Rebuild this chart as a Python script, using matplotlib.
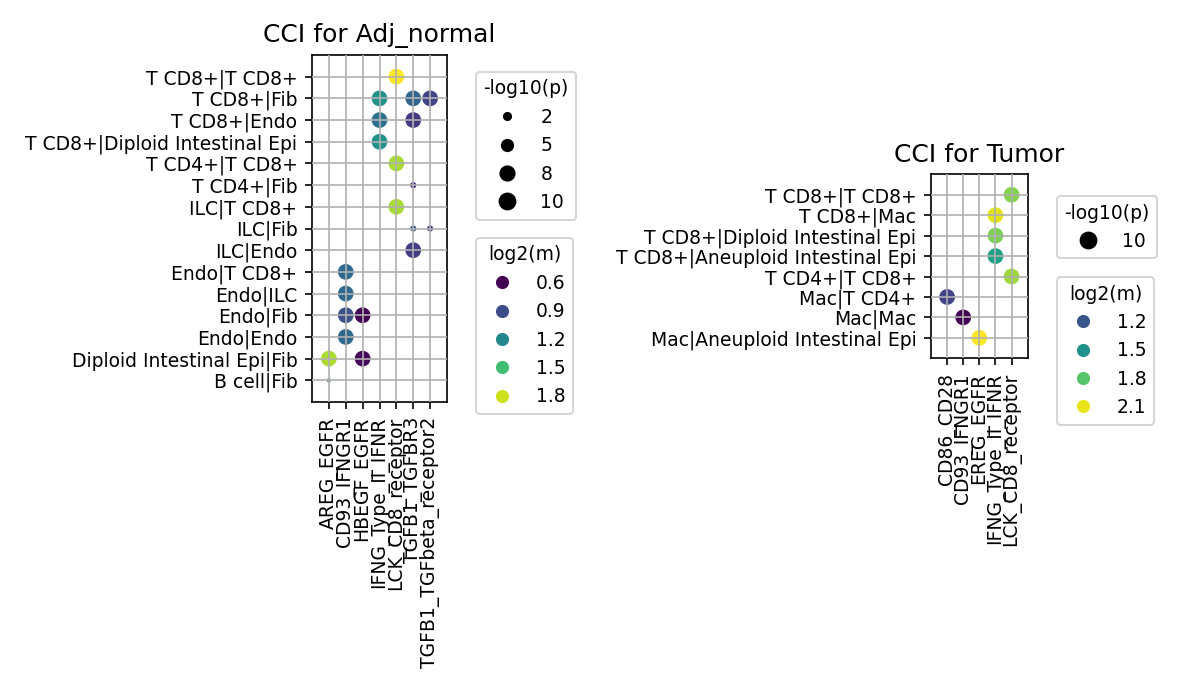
import numpy as np
import matplotlib
matplotlib.use("Agg")
import matplotlib.pyplot as plt
from matplotlib.lines import Line2D
from matplotlib.colors import Normalize

# ---------------- data: Adj_normal ----------------
adj_pairs = ["T CD8+|T CD8+", "T CD8+|Fib", "T CD8+|Endo", "T CD8+|Diploid Intestinal Epi",
             "T CD4+|T CD8+", "T CD4+|Fib", "ILC|T CD8+", "ILC|Fib", "ILC|Endo",
             "Endo|T CD8+", "Endo|ILC", "Endo|Fib", "Endo|Endo",
             "Diploid Intestinal Epi|Fib", "B cell|Fib"]
adj_interactions = ["AREG_EGFR", "CD93_IFNGR1", "HBEGF_EGFR", "IFNG_Type_II_IFNR",
                    "LCK_CD8_receptor", "TGFB1_TGFBR3", "TGFB1_TGFbeta_receptor2"]
adj_pair_of_point = ["T CD8+|T CD8+", "T CD8+|Fib", "T CD8+|Fib", "T CD8+|Fib",
                     "T CD8+|Endo", "T CD8+|Endo", "T CD8+|Diploid Intestinal Epi",
                     "T CD4+|T CD8+", "T CD4+|Fib", "ILC|T CD8+", "ILC|Fib", "ILC|Fib",
                     "ILC|Endo", "Endo|T CD8+", "Endo|ILC", "Endo|Fib", "Endo|Fib",
                     "Endo|Endo", "Diploid Intestinal Epi|Fib", "Diploid Intestinal Epi|Fib",
                     "B cell|Fib"]
adj_inter_of_point = ["LCK_CD8_receptor", "IFNG_Type_II_IFNR", "TGFB1_TGFBR3", "TGFB1_TGFbeta_receptor2",
                      "IFNG_Type_II_IFNR", "TGFB1_TGFBR3", "IFNG_Type_II_IFNR",
                      "LCK_CD8_receptor", "TGFB1_TGFBR3", "LCK_CD8_receptor", "TGFB1_TGFBR3",
                      "TGFB1_TGFbeta_receptor2", "TGFB1_TGFBR3", "CD93_IFNGR1", "CD93_IFNGR1",
                      "CD93_IFNGR1", "HBEGF_EGFR", "CD93_IFNGR1", "AREG_EGFR", "HBEGF_EGFR",
                      "AREG_EGFR"]
adj_log2m = [1.90, 1.25, 1.03, 0.86, 1.09, 0.82, 1.25, 1.73, 0.73, 1.73, 0.93, 0.80,
             0.83, 1.05, 1.05, 0.93, 0.60, 1.04, 1.74, 0.62, 1.10]
adj_logp = [10, 10, 10, 10, 10, 10, 10, 10, 1.5, 10, 1.5, 1.5,
            10, 10, 10, 10, 10, 10, 10, 10, 0.7]
adj_size_ticks = [2, 5, 8, 10]
adj_color_ticks = [0.6, 0.9, 1.2, 1.5, 1.8]

# ---------------- data: Tumor ----------------
tum_pairs = ["T CD8+|T CD8+", "T CD8+|Mac", "T CD8+|Diploid Intestinal Epi",
             "T CD8+|Aneuploid Intestinal Epi", "T CD4+|T CD8+", "Mac|T CD4+",
             "Mac|Mac", "Mac|Aneuploid Intestinal Epi"]
tum_interactions = ["CD86_CD28", "CD93_IFNGR1", "EREG_EGFR", "IFNG_Type_II_IFNR", "LCK_CD8_receptor"]
tum_pair_of_point = ["T CD8+|T CD8+", "T CD8+|Mac", "T CD8+|Diploid Intestinal Epi",
                     "T CD8+|Aneuploid Intestinal Epi", "T CD4+|T CD8+", "Mac|T CD4+",
                     "Mac|Mac", "Mac|Aneuploid Intestinal Epi"]
tum_inter_of_point = ["LCK_CD8_receptor", "IFNG_Type_II_IFNR", "IFNG_Type_II_IFNR",
                      "IFNG_Type_II_IFNR", "LCK_CD8_receptor", "CD86_CD28", "CD93_IFNGR1",
                      "EREG_EGFR"]
tum_log2m = [1.91, 2.09, 1.89, 1.60, 1.96, 1.11, 0.85, 2.15]
tum_logp = [10, 10, 10, 10, 10, 10, 10, 10]
tum_size_ticks = [10]
tum_color_ticks = [1.2, 1.5, 1.8, 2.1]

W, H = 1191, 693
DPI = 150
FS = 9.0
fig = plt.figure(figsize=(W / DPI, H / DPI), dpi=DPI)
plt.rcParams['font.size'] = FS

SIZE_K = 5.7


def panel(rect, pairs, inters, p_pt, i_pt, cvals, pvals, sticks, cticks, title,
          leg1_xy, leg2_xy):
    ax = fig.add_axes(rect)
    xs = [inters.index(i) for i in i_pt]
    ys = [pairs.index(p) for p in p_pt]
    norm = Normalize(vmin=min(cvals), vmax=max(cvals))
    cmap = plt.get_cmap("viridis")
    ax.scatter(xs, ys, s=[SIZE_K * v for v in pvals], c=cvals, cmap=cmap, norm=norm,
               linewidths=0, zorder=1)
    ax.set_xticks(range(len(inters)))
    ax.set_xticklabels(inters, rotation=90, fontsize=FS)
    ax.set_yticks(range(len(pairs)))
    ax.set_yticklabels(pairs, fontsize=FS)
    ax.set_xlim(-1, len(inters))
    ax.set_ylim(len(pairs), -1)
    ax.grid(True, color="#b0b0b0", linewidth=0.8)
    ax.set_axisbelow(False)
    ax.set_title(title, fontsize=12)

    h1 = [Line2D([], [], marker="o", linestyle="none", color="black",
                 markersize=np.sqrt(SIZE_K * v)) for v in sticks]
    leg1 = ax.legend(h1, [str(v) for v in sticks], title="-log10(p)", loc="upper left",
                     bbox_to_anchor=(leg1_xy[0] / W, 1 - leg1_xy[1] / H),
                     bbox_transform=fig.transFigure, borderaxespad=0,
                     labelspacing=0.5, fontsize=FS, title_fontsize=FS)
    ax.add_artist(leg1)
    h2 = [Line2D([], [], marker="o", linestyle="none", color=cmap(norm(v)),
                 markersize=5.3) for v in cticks]
    ax.legend(h2, [str(v) for v in cticks], title="log2(m)", loc="upper left",
              bbox_to_anchor=(leg2_xy[0] / W, 1 - leg2_xy[1] / H),
              bbox_transform=fig.transFigure, borderaxespad=0,
              labelspacing=0.5, fontsize=FS, title_fontsize=FS)
    return ax


panel([312 / W, 1 - 402 / H, 135 / W, 347 / H], adj_pairs, adj_interactions,
      adj_pair_of_point, adj_inter_of_point, adj_log2m, adj_logp,
      adj_size_ticks, adj_color_ticks, "CCI for Adj_normal", (476, 72), (476, 238))
panel([931 / W, 1 - 358.3 / H, 96.7 / W, 184 / H], tum_pairs, tum_interactions,
      tum_pair_of_point, tum_inter_of_point, tum_log2m, tum_logp,
      tum_size_ticks, tum_color_ticks, "CCI for Tumor", (1057, 196), (1057, 277))

fig.savefig("out.png", dpi=DPI)
